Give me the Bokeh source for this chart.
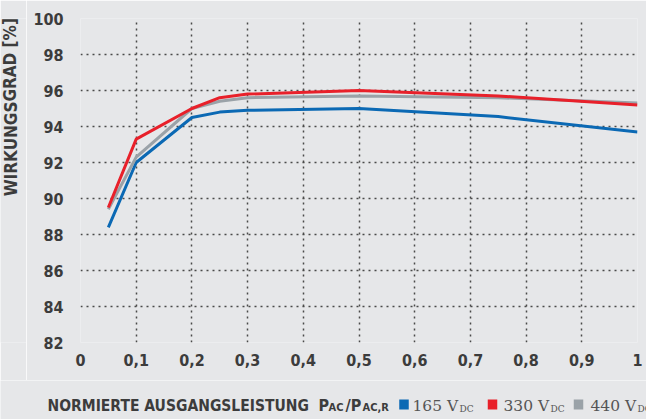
from bokeh.plotting import figure
from bokeh.models import FixedTicker, Range1d
from bokeh.layouts import column, row
from bokeh.core.properties import value
from bokeh.embed import file_html
from bokeh.resources import INLINE

x_vals = [0.05, 0.1, 0.2, 0.25, 0.3, 0.5, 0.75, 1.0]
eff_165 = [88.4, 92.0, 94.5, 94.8, 94.9, 95.0, 94.55, 93.7]
eff_330 = [89.5, 93.3, 95.0, 95.6, 95.8, 96.0, 95.7, 95.2]
eff_440 = [89.4, 92.3, 95.0, 95.4, 95.6, 95.7, 95.6, 95.3]
x_ticks = [0, 0.1, 0.2, 0.3, 0.4, 0.5, 0.6, 0.7, 0.8, 0.9, 1.0]
x_tick_labels = ["0", "0,1", "0,2", "0,3", "0,4", "0,5", "0,6", "0,7", "0,8", "0,9", "1"]
y_ticks = [82, 84, 86, 88, 90, 92, 94, 96, 98, 100]
series_names = ["165 V", "330 V", "440 V"]
colors = ["#0b69b4", "#e8202a", "#9aa2a8"]
y_title = "WIRKUNGSGRAD [%]"
x_title = "NORMIERTE AUSGANGSLEISTUNG"

BG = "#e6e7e9"
TXT = "#3c3c3c"
FONT = "DejaVu Sans Condensed"
SERIF = "DejaVu Serif"

LEFT_W, MAIN_W, MAIN_H, BOT_H = 26, 620, 380, 39
W = LEFT_W + MAIN_W


def blank(width, height, xr, yr):
    f = figure(width=width, height=height, output_backend="svg", toolbar_location=None,
               x_range=Range1d(*xr), y_range=Range1d(*yr),
               min_border_left=0, min_border_right=0, min_border_top=0, min_border_bottom=0)
    f.axis.visible = False
    f.grid.visible = False
    f.outline_line_color = None
    f.background_fill_color = BG
    f.border_fill_color = BG
    return f


# ---- main chart ----
p = figure(width=MAIN_W, height=MAIN_H, output_backend="svg", toolbar_location=None,
           x_range=Range1d(0, 1), y_range=Range1d(82, 100),
           min_border_left=54, min_border_right=9, min_border_top=18, min_border_bottom=38)
p.background_fill_color = BG
p.border_fill_color = BG
p.outline_line_color = None

for ax in (p.xaxis[0], p.yaxis[0]):
    ax.axis_line_color = None
    ax.major_tick_line_color = None
    ax.minor_tick_line_color = None
    ax.major_label_text_font = FONT
    ax.major_label_text_font_style = "bold"
    ax.major_label_text_color = TXT
    ax.major_label_text_font_size = "16px"

p.xaxis.ticker = FixedTicker(ticks=x_ticks)
p.xaxis.major_label_overrides = {t: l for t, l in zip(x_ticks, x_tick_labels)}
p.xaxis.major_label_standoff = 5
p.yaxis.ticker = FixedTicker(ticks=y_ticks)
p.yaxis.major_label_standoff = 11

for g in (p.xgrid[0], p.ygrid[0]):
    g.grid_line_color = "#4a4a4a"
    g.grid_line_dash = "2 4"
    g.grid_line_width = 1.5

p.line(x_vals, eff_165, line_color=colors[0], line_width=3)
p.line(x_vals, eff_440, line_color=colors[2], line_width=3)
p.line(x_vals, eff_330, line_color=colors[1], line_width=3)

# ---- left strip: y title (pixel coordinates, y up) ----
lf = blank(LEFT_W, MAIN_H, (0, LEFT_W), (0, MAIN_H))
lf.text(x=[10], y=[MAIN_H - 104], text=[y_title], angle=1.5708,
        text_font=value(FONT), text_font_style="bold", text_font_size="17px",
        text_color=TXT, text_align="center", text_baseline="middle")

# ---- bottom strip: x title and legend (pixel coordinates, y up) ----
bf = blank(W, BOT_H, (0, W), (0, BOT_H))
bf.text(x=[47], y=[14], text=[x_title],
        text_font=value(FONT), text_font_style="bold", text_font_size="15.5px",
        text_color=TXT, text_align="left", text_baseline="alphabetic")
bf.text(x=[318, 345], y=[14, 14], text=["P", "/P"],
        text_font=value(FONT), text_font_style="bold", text_font_size="16px",
        text_color=TXT, text_align="left", text_baseline="alphabetic")
bf.text(x=[328, 362], y=[12, 12], text=["AC", "AC,R"],
        text_font=value(FONT), text_font_style="bold", text_font_size="11px",
        text_color=TXT, text_align="left", text_baseline="alphabetic")

sq_x = [403.5, 492, 578]
txt_x = [412, 503, 590]
bf.rect(x=sq_x, y=[15, 15, 15], width=9.5, height=10, fill_color=colors, line_color=None)
bf.text(x=txt_x, y=[14, 14, 14], text=series_names,
        text_font=value(SERIF), text_font_size="15.5px", text_color="#555555",
        text_align="left", text_baseline="alphabetic")
bf.text(x=[t + 47 for t in txt_x], y=[11, 11, 11], text=["DC", "DC", "DC"],
        text_font=value(SERIF), text_font_size="9px", text_color="#555555",
        text_align="left", text_baseline="alphabetic")

layout = column(row(lf, p, spacing=0), bf, spacing=0)
open("out.html", "w").write(file_html(layout, INLINE))
